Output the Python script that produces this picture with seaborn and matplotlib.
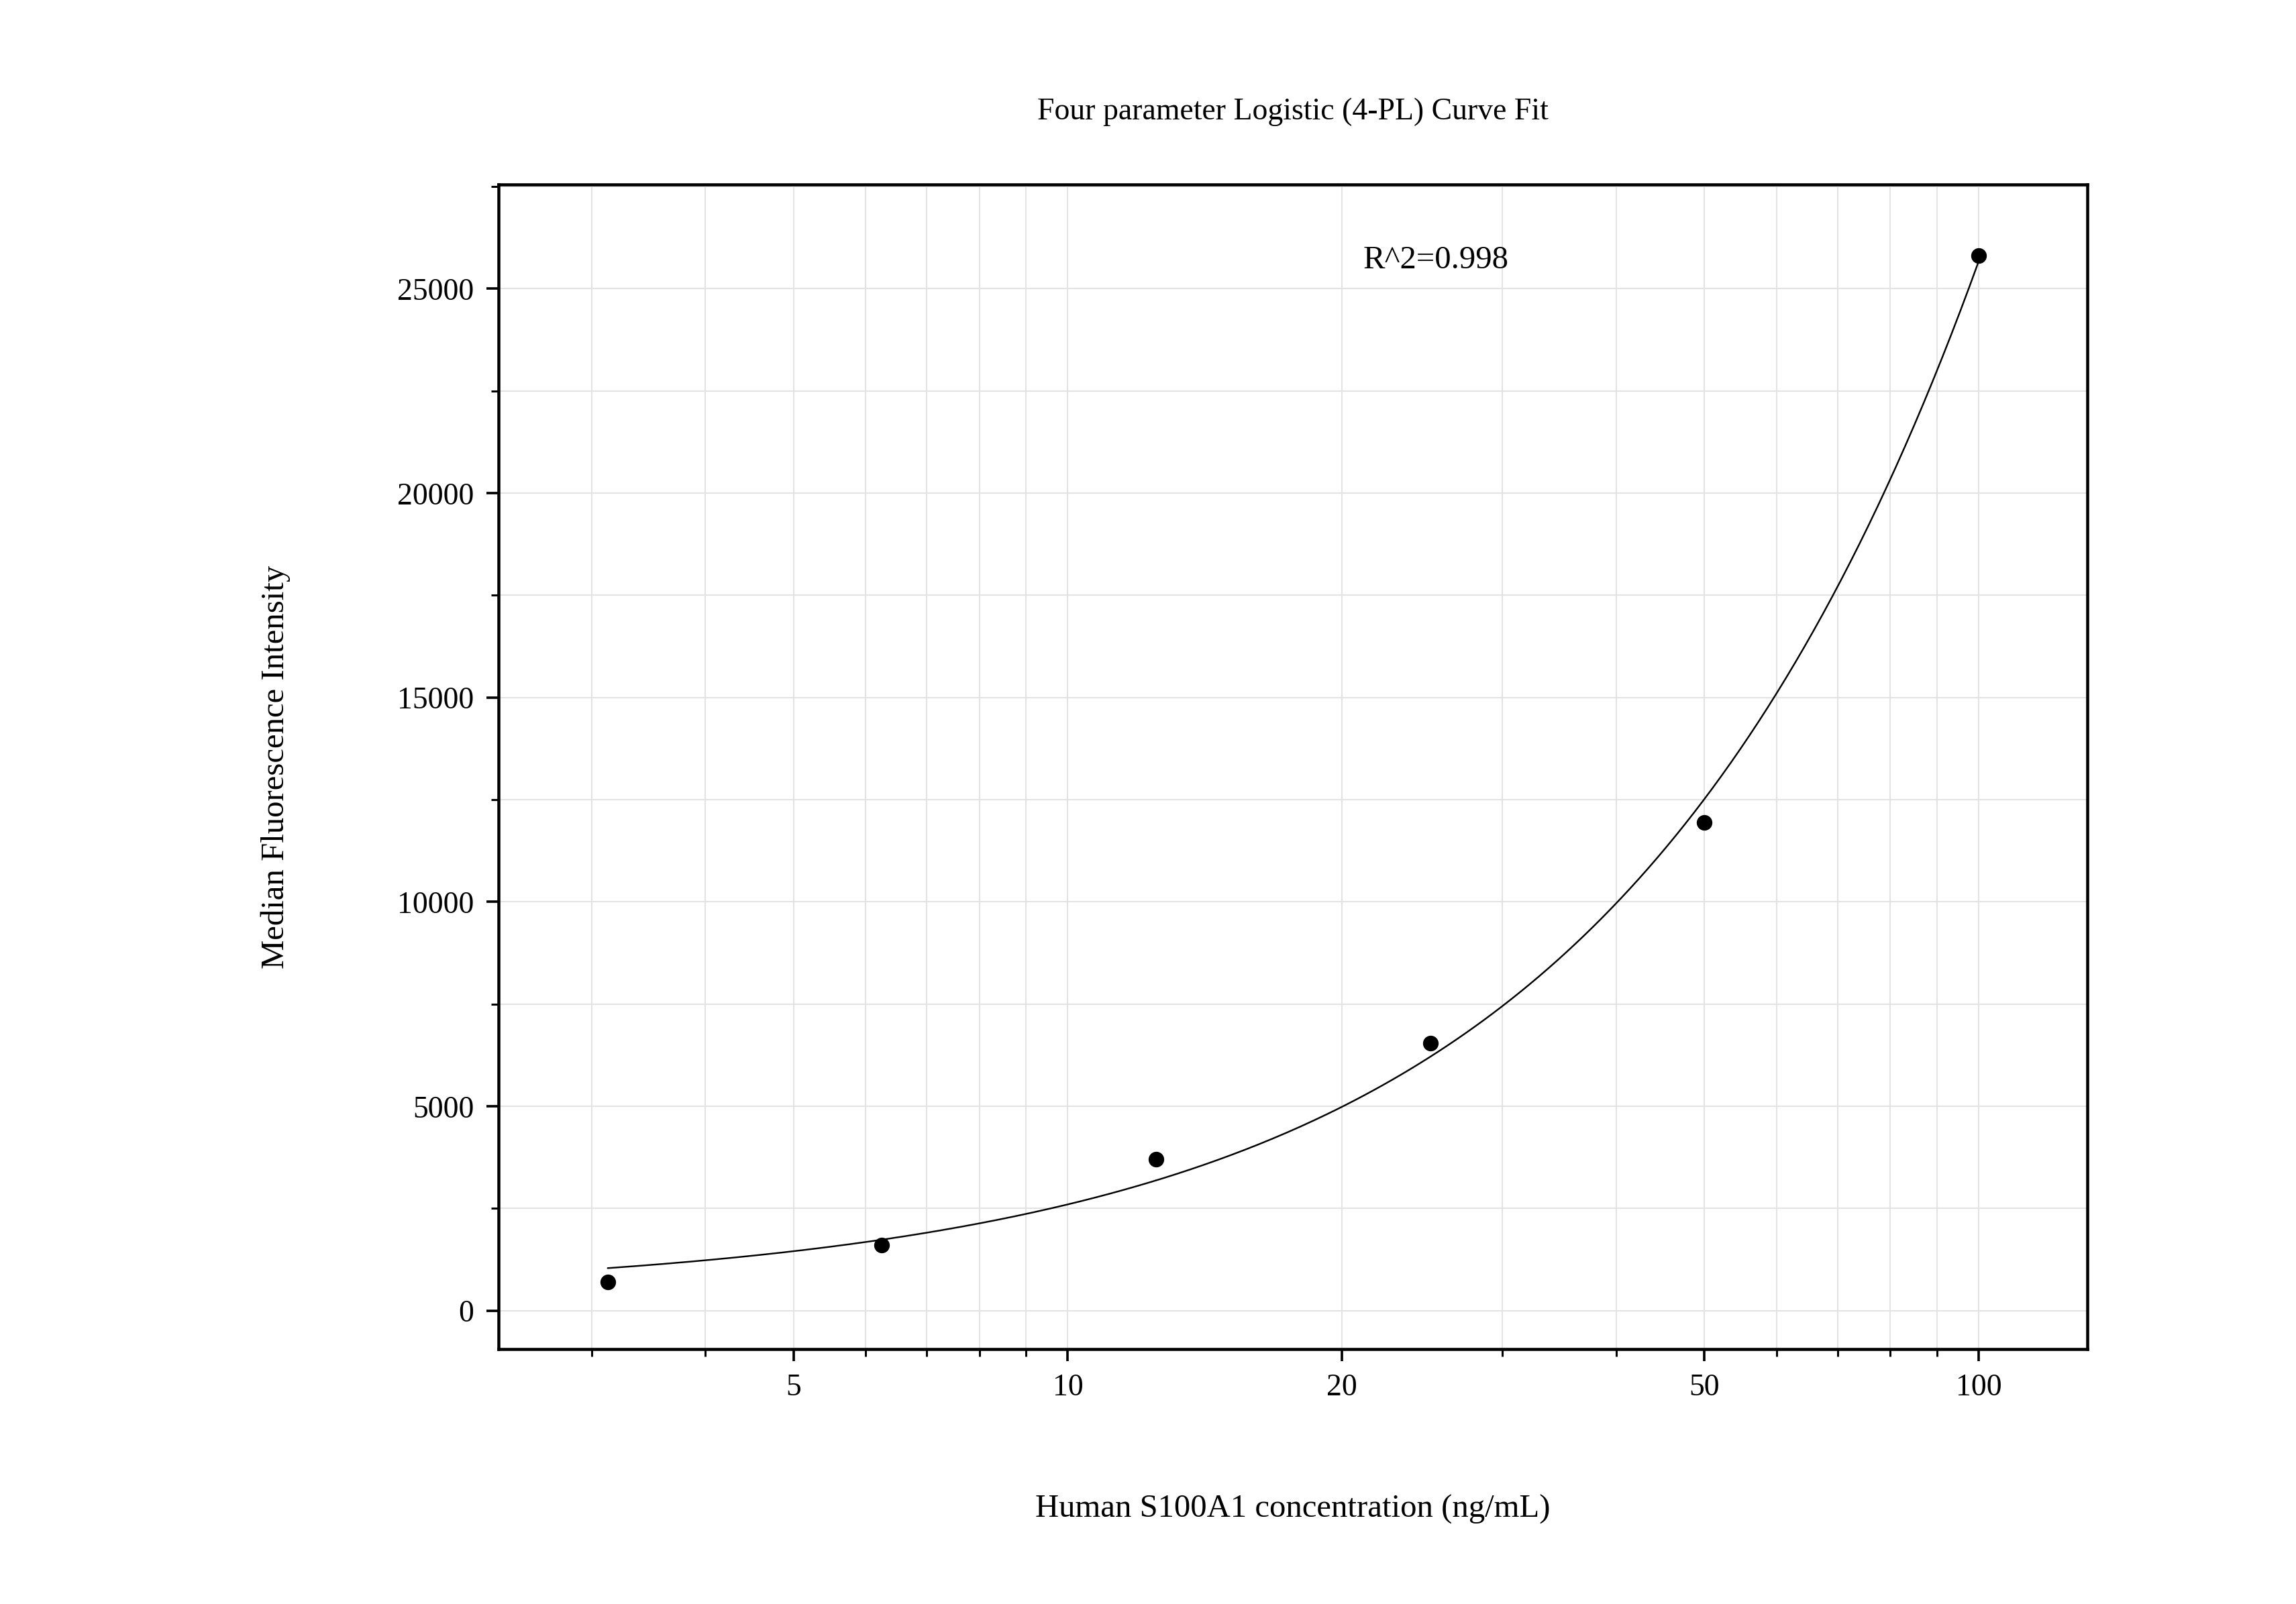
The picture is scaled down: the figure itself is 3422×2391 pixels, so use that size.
import numpy as np
import matplotlib
matplotlib.use("Agg")
import matplotlib.pyplot as plt
import seaborn as sns
from matplotlib.ticker import LogLocator, FixedLocator, MultipleLocator, NullFormatter

conc = [3.125, 6.25, 12.5, 25, 50, 100]
mfi = [700, 1600, 3700, 6550, 11950, 25800]
x_ticks = [5, 10, 20, 50, 100]
x_tick_labels = ["5", "10", "20", "50", "100"]
# estimated fit parameters (bottom, scale, slope)
fit_bottom, fit_scale, fit_slope = 400.0, 191.6, 1.06

sns.set_style("white")
plt.rcParams["font.family"] = "Liberation Serif"
plt.rcParams["text.color"] = "black"
plt.rcParams["axes.labelcolor"] = "black"
plt.rcParams["xtick.color"] = "black"
plt.rcParams["ytick.color"] = "black"
fig = plt.figure(figsize=(15.6, 10.9), dpi=219.4)
ax = fig.add_axes([0.217, 0.159, 0.692, 0.726])

xs = np.logspace(np.log10(3.125), np.log10(100), 300)
ys = fit_bottom + fit_scale * xs ** fit_slope
sns.lineplot(x=xs, y=ys, ax=ax, color="black", linewidth=0.8)
sns.scatterplot(x=conc, y=mfi, ax=ax, color="black", s=50, edgecolor="black", zorder=5)

ax.set_xscale("log")
ax.set_xlim(2.37, 131.7)
ax.set_ylim(-935, 27554)
ax.xaxis.set_major_locator(FixedLocator(x_ticks))
ax.set_xticklabels(x_tick_labels)
ax.xaxis.set_minor_locator(LogLocator(base=10, subs=np.arange(1, 10)))
ax.xaxis.set_minor_formatter(NullFormatter())
ax.yaxis.set_major_locator(MultipleLocator(5000))
ax.yaxis.set_minor_locator(MultipleLocator(2500))
ax.grid(True, which="both", color="#e3e3e3", linewidth=0.7)
ax.set_axisbelow(True)
for s in ax.spines.values():
    s.set_linewidth(1.5)
    s.set_color("black")
ax.tick_params(which="major", direction="out", length=6, width=1.2, labelsize=15,
               bottom=True, left=True, top=False, right=False, pad=6)
ax.tick_params(which="minor", direction="out", length=3.5, width=1.0,
               bottom=True, left=True, top=False, right=False)

ax.set_xlabel("Human S100A1 concentration (ng/mL)", fontsize=16, labelpad=45)
ax.set_ylabel("Median Fluorescence Intensity", fontsize=16, labelpad=52)
ax.set_title("Four parameter Logistic (4-PL) Curve Fit", fontsize=15, pad=32)
ax.text(21.1, 25700, "R^2=0.998", fontsize=16, va="center", ha="left")

fig.savefig("out.png", dpi=219.4)
